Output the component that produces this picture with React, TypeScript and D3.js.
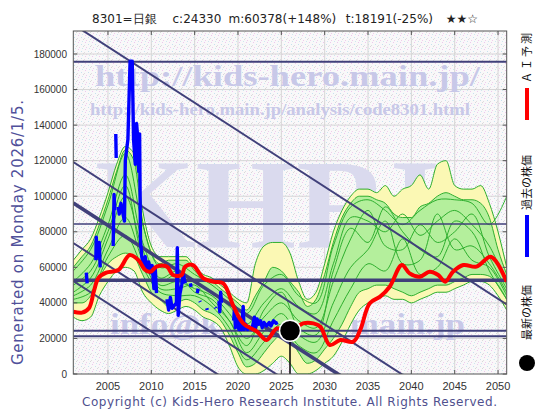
import React from "react";
import * as d3 from "d3";

// ---------- data (values in thousands of yen) ----------
const xTickYears = [2005, 2010, 2015, 2020, 2025, 2030, 2035, 2040, 2045, 2050];
const yTickValues = [0, 20, 40, 60, 80, 100, 120, 140, 160, 180];

const titleParts = ["8301=日銀", "c:24330", "m:60378(+148%)", "t:18191(-25%)", "★★☆"];

// yearly envelope of the AI forecast fan, 2001..2051
const bandYears = [
  2001, 2002, 2003, 2004, 2005, 2006, 2007, 2008, 2009, 2010, 2011, 2012, 2013,
  2014, 2015, 2016, 2017, 2018, 2019, 2020, 2021, 2022, 2023, 2024, 2025, 2026,
  2027, 2028, 2029, 2030, 2031, 2032, 2033, 2034, 2035, 2036, 2037, 2038, 2039,
  2040, 2041, 2042, 2043, 2044, 2045, 2046, 2047, 2048, 2049, 2050, 2051,
];
const yellowUpper = [
  64, 70, 76, 88, 102, 118, 128, 124, 92, 72, 66, 66, 66, 66, 60, 56, 54, 50, 46,
  42, 40, 62, 72, 74, 74, 68, 52, 42, 46, 62, 80, 92, 100, 104, 104, 102, 106, 100,
  104, 106, 112, 104, 118, 120, 106, 104, 104, 106, 96, 80, 60,
];
const greenUpper = [
  60, 66, 72, 84, 98, 114, 126, 120, 86, 68, 62, 64, 64, 64, 58, 54, 52, 48, 44,
  40, 36, 44, 52, 60, 58, 52, 46, 38, 42, 56, 74, 88, 96, 100, 100, 98, 96, 90, 88,
  88, 94, 96, 100, 102, 100, 98, 98, 96, 88, 70, 56,
];
const greenLower = [
  40, 40, 44, 54, 62, 66, 68, 66, 56, 46, 42, 38, 40, 42, 40, 36, 34, 30, 22, 12,
  4, 6, 12, 18, 22, 20, 12, 6, 8, 14, 20, 28, 38, 46, 48, 50, 50, 48, 46, 44, 46,
  48, 50, 50, 52, 54, 56, 56, 55, 50, 42,
];
const yellowLower = [
  32, 30, 32, 44, 52, 58, 60, 58, 46, 40, 36, 34, 36, 38, 36, 32, 30, 26, 16, 4, 0,
  0, 2, 6, 10, 6, 0, 0, 2, 6, 10, 18, 28, 36, 40, 42, 44, 42, 42, 40, 42, 44, 46,
  46, 48, 50, 52, 52, 50, 44, 36,
];

// individual forecast paths, every two years 2001..2051
const pathYears = [
  2001, 2003, 2005, 2007, 2009, 2011, 2013, 2015, 2017, 2019, 2021, 2023, 2025,
  2027, 2029, 2031, 2033, 2035, 2037, 2039, 2041, 2043, 2045, 2047, 2049, 2051,
];
const path1 = [58, 70, 95, 124, 84, 60, 62, 56, 50, 42, 34, 50, 56, 44, 40, 72, 94, 98, 92, 84, 92, 98, 98, 96, 84, 100];
const path2 = [52, 62, 84, 112, 74, 54, 58, 52, 46, 38, 28, 40, 48, 38, 34, 62, 88, 86, 80, 90, 78, 86, 92, 84, 72, 50];
const path3 = [46, 54, 76, 100, 70, 50, 52, 48, 44, 34, 20, 32, 40, 30, 26, 52, 76, 92, 72, 70, 84, 74, 80, 90, 66, 48];
const path4 = [44, 50, 70, 88, 64, 48, 48, 50, 40, 30, 12, 24, 34, 22, 18, 40, 60, 70, 86, 62, 64, 90, 70, 72, 62, 46];
const path5 = [42, 46, 66, 78, 60, 46, 44, 44, 38, 26, 8, 18, 28, 16, 12, 30, 48, 62, 58, 76, 56, 60, 76, 64, 60, 44];
const path6 = [50, 58, 80, 106, 66, 52, 56, 46, 42, 30, 16, 36, 46, 26, 22, 58, 82, 74, 94, 80, 70, 66, 86, 80, 58, 42];

// AI forecast (red)
const predYears = [
  2001, 2002, 2002.8, 2003.4, 2003.9, 2004.8, 2006.2, 2007.5, 2008.5, 2009.3,
  2009.9, 2010.6, 2011.8, 2012.5, 2013.5, 2013.9, 2014.8, 2016.0, 2017.2, 2018.3,
  2019.5, 2020.6, 2022.2, 2023.3, 2024.5, 2026.0, 2027.5, 2028.7, 2029.5, 2030.6,
  2031.8, 2033.3, 2034.1, 2035.2, 2036.4, 2037.5, 2038.9, 2039.8, 2041.0, 2042.1,
  2043.1, 2043.9, 2044.8, 2046.0, 2047.5, 2049.1, 2049.8, 2051,
];
const predValues = [
  35, 34.5, 37, 47, 54, 57, 58.5, 66.9, 64.1, 58.5, 57.5, 60.4, 60.4, 55.7, 55.7,
  60.4, 61.3, 53.8, 51.9, 51, 37.9, 28.5, 23.8, 19.1, 25.7, 23.8, 28.5, 28.5, 26.6,
  16.3, 19.1, 18.2, 24.8, 39.8, 43.5, 49.1, 61.3, 56.6, 54.7, 57.5, 55.7, 51.9,
  57.5, 61.3, 60.4, 66, 63.2, 51.9,
];

// past prices (blue); null = no data
const pastYears = [
  2002.5, 2002.6, 2002.65, 2003.6, 2003.65, 2003.75, 2004.0, 2004.1, 2004.2,
  2005.6, 2005.7, 2005.8, 2005.85, 2005.9, 2005.95, 2006.0, 2006.2, 2006.3, 2006.5,
  2006.9, 2007.0, 2007.3, 2007.55, 2007.8, 2007.95, 2008.15, 2008.3, 2008.45,
  2008.55, 2008.65, 2008.75, 2008.9, 2009.1, 2009.3, 2009.5, 2009.7, 2009.9, 2010.1,
  2010.3, 2010.45, 2010.6, 2010.8, 2011.8, 2012.0, 2012.2, 2012.4, 2012.9, 2013.0,
  2013.1, 2013.3, 2013.5, 2013.7, 2013.9, 2014.0, 2014.5, 2014.6, 2014.7, 2015.3,
  2015.4, 2015.45, 2015.6, 2015.65, 2015.7, 2016.4, 2016.45, 2016.5, 2017.4,
  2017.45, 2017.5, 2017.8, 2017.9, 2018.0, 2018.1, 2018.2, 2019.5, 2019.6, 2019.7,
  2019.9, 2020.1, 2020.3, 2020.4, 2020.6, 2020.7, 2020.9, 2021.1, 2021.3, 2021.6,
  2021.9, 2022.0, 2022.2, 2022.4, 2022.6, 2022.8, 2023.0, 2023.3, 2023.6, 2023.8,
  2024.1, 2024.4, 2024.6,
];
const pastValues = [
  57, 51, null, 64, 77, 66, 74, 60, null,
  72, 101, 92, null, 135, 121.5, null, 94, 90, 96,
  86, 120, 132, 176, 176, 132, 118, 141, 132,
  114, 135, 75, 66, 61, 66, 58, 63, 57, 61,
  48, 60, 45.5, null, 42, 36, 43, 37, 40, 71,
  33, 45, 50, 56, 51, null, 51, 49, null, 45.5,
  48, null, 41, 40.5, null, 37, 36, null, 37.5,
  37, null, 41, 35, 46, 40, null, 30, 37, 26,
  31, 25, 30, 25, 38, 25, 28, 25, 26.5, 25,
  32, 25, 31, 28, 30, 26, 29, 27, 29, 27,
  30, 28.5, 29,
];

const latestYear = 2026.0;
const latestValue = 24.33;

// support / resistance levels
const levelValues = [175.7, 84.4, 52.7, 24.36, 21.2];
const levelWidths = [2, 1.6, 3.4, 2, 2];
// downward channel lines: value at 2001 and at 2051
const channelStart = [196.65, 119.25, 96.19, 73.69, 52.31];
const channelEnd = [39.15, -38.25, -61.31, -83.81, -105.19];
const channelWidths = [2, 2, 3.6, 2, 2];

const legendLabels = ["ＡＩ予測", "過去の株価", "最新の株価"];

// ---------- chart ----------
const W = 560, H = 420;
const L = 73.3, R = 506.7, T = 31, B = 374;
const navy = "#40407a";
const sans = "'DejaVu Sans', Verdana, sans-serif";
const serif = "'Liberation Serif', 'DejaVu Serif', serif";

export default function App() {
  const x = d3.scaleLinear().domain([2001, 2051]).range([L, R]);
  const y = d3.scaleLinear().domain([0, 180]).range([B, 54]);

  const area = (lo: number[], hi: number[]) =>
    d3
      .area<number>()
      .x((_, i) => x(bandYears[i]))
      .y0((_, i) => y(lo[i]))
      .y1((d) => y(d))
      .curve(d3.curveMonotoneX)(hi) || "";
  const bandLine = (vals: number[]) =>
    d3
      .line<number>()
      .x((_, i) => x(bandYears[i]))
      .y((d) => y(d))
      .curve(d3.curveMonotoneX)(vals) || "";
  const pathLine = (vals: number[]) =>
    d3
      .line<number>()
      .x((_, i) => x(pathYears[i]))
      .y((d) => y(d))
      .curve(d3.curveCatmullRom.alpha(0.5))(vals) || "";

  const redPath =
    d3
      .line<number>()
      .x((_, i) => x(predYears[i]))
      .y((d) => y(d))
      .curve(d3.curveCatmullRom.alpha(0.5))(predValues) || "";

  const bluePath =
    d3
      .line<number | null>()
      .defined((d) => d !== null)
      .x((_, i) => x(pastYears[i]))
      .y((d) => y(d as number))(pastValues) || "";

  const greenStroke = "#2eae2e";
  const paths = [path1, path2, path3, path4, path5, path6];

  return (
    <svg
      width={W}
      height={H}
      style={{ position: "absolute", left: 0, top: 0, background: "#fff" }}
      fontFamily={sans}
    >
      <defs>
        <pattern id="bgdots" width="7" height="7" patternUnits="userSpaceOnUse">
          <rect width="7" height="7" fill="#f9f8f9" />
          <rect x="1" y="0" width="1" height="1" fill="#eec6ee" />
          <rect x="4" y="2" width="1" height="1" fill="#c6e2ee" />
          <rect x="6" y="4" width="1" height="1" fill="#d8d8d8" />
          <rect x="2" y="5" width="1" height="1" fill="#f0ccec" />
          <rect x="5" y="6" width="1" height="1" fill="#cfe6f0" />
          <rect x="0" y="3" width="1" height="1" fill="#e0dce0" />
        </pattern>
        <clipPath id="plotclip">
          <rect x={L} y={T} width={R - L} height={B - T} />
        </clipPath>
      </defs>

      <rect x={L} y={T} width={R - L} height={B - T} fill="url(#bgdots)" />

      {/* grid */}
      {xTickYears.map((yr) => (
        <line key={"gx" + yr} x1={x(yr)} x2={x(yr)} y1={T} y2={B} stroke="#d6d6d6" strokeWidth={1} />
      ))}
      {yTickValues.slice(1).map((v) => (
        <line key={"gy" + v} x1={L} x2={R} y1={y(v)} y2={y(v)} stroke="#d6d6d6" strokeWidth={1} />
      ))}

      <g clipPath="url(#plotclip)">
        {/* watermarks */}
        <g fill="#c8c8e8" fontFamily={serif} fontWeight="bold">
          <text x={95} y={86} fontSize={30} textLength={385} lengthAdjust="spacingAndGlyphs">
            http://kids-hero.main.jp/
          </text>
          <text x={90} y={115} fontSize={17} textLength={380} lengthAdjust="spacingAndGlyphs">
            http://kids-hero.main.jp/analysis/code8301.html
          </text>
          <text x={95} y={247} fontSize={127} fill="#dadaee" textLength={345} lengthAdjust="spacingAndGlyphs">
            KHRI
          </text>
          <text x={110} y={334} fontSize={30} textLength={355} lengthAdjust="spacingAndGlyphs">
            info@kids-hero.main.jp
          </text>
        </g>

        {/* forecast fan */}
        <path d={area(yellowLower, yellowUpper)} fill="#fbf8b4" stroke="none" />
        <path d={area(greenLower, greenUpper)} fill="#b4ef9c" stroke="none" />
        {[yellowUpper, yellowLower, greenUpper, greenLower].map((s, i) => (
          <path key={"env" + i} d={bandLine(s)} fill="none" stroke={greenStroke} strokeWidth={1} />
        ))}
        {paths.map((p, i) => (
          <path key={"p" + i} d={pathLine(p)} fill="none" stroke={greenStroke} strokeWidth={1} />
        ))}

        {/* levels and channel */}
        {levelValues.map((v, i) => (
          <line key={"lv" + i} x1={L} x2={R} y1={y(v)} y2={y(v)} stroke={navy} strokeWidth={levelWidths[i]} />
        ))}
        {channelStart.map((v, i) => (
          <line
            key={"ch" + i}
            x1={x(2001)}
            y1={y(v)}
            x2={x(2051)}
            y2={y(channelEnd[i])}
            stroke={navy}
            strokeWidth={channelWidths[i]}
          />
        ))}

        {/* past price and AI forecast */}
        <path d={bluePath} fill="none" stroke="#0000ff" strokeWidth={3.4} strokeLinejoin="round" />
        <path d={redPath} fill="none" stroke="#ff0000" strokeWidth={4} strokeLinejoin="round" />

        {/* latest price */}
        <line x1={x(latestYear)} x2={x(latestYear)} y1={y(latestValue)} y2={B} stroke="#000" strokeWidth={1.5} />
        <circle cx={x(latestYear)} cy={y(latestValue)} r={10.5} fill="#000" stroke="#fff" strokeWidth={1.5} />
      </g>

      {/* frame and ticks */}
      <rect x={L} y={T} width={R - L} height={B - T} fill="none" stroke="#555" strokeWidth={1} />
      {yTickValues.map((v) => (
        <g key={"ty" + v}>
          <line x1={L} x2={L + 4} y1={y(v)} y2={y(v)} stroke="#555" />
          <line x1={R - 4} x2={R} y1={y(v)} y2={y(v)} stroke="#555" />
          <text x={67} y={y(v) + 3.5} fontSize={10} textAnchor="end" fill="#333" fontFamily="'Liberation Sans', Arial, sans-serif">
            {v * 1000}
          </text>
        </g>
      ))}
      {xTickYears.map((yr) => (
        <g key={"tx" + yr}>
          <line x1={x(yr)} x2={x(yr)} y1={B} y2={B - 4} stroke="#555" />
          <line x1={x(yr)} x2={x(yr)} y1={T} y2={T + 4} stroke="#555" />
          <text x={x(yr)} y={390} fontSize={11} textAnchor="middle" fill="#333" fontFamily="'Liberation Sans', Arial, sans-serif">
            {yr}
          </text>
        </g>
      ))}

      {/* title */}
      {titleParts.map((t, i) => (
        <text key={"tt" + i} x={[92, 172.5, 228.6, 345.7, 445.7][i]} y={23} fontSize={12} fill="#222">
          {t}
        </text>
      ))}

      {/* side texts */}
      <text
        transform="translate(23,365) rotate(-90)"
        fontSize={15}
        fill="#50509a"
        textLength={265}
      >
        Generated on Monday 2026/1/5.
      </text>
      <text x={82} y={406} fontSize={12} fill="#50508e" textLength={415}>
        Copyright (c) Kids-Hero Research Institute. All Rights Reserved.
      </text>

      {/* legend */}
      <g fontFamily="'Noto Sans CJK JP', sans-serif" fontSize={11} fill="#111">
        <text transform="translate(531,83) rotate(-90)" textLength={50}>{legendLabels[0]}</text>
        <rect x={525} y={88} width={4} height={32} fill="#ff0000" />
        <text transform="translate(531,210) rotate(-90)" textLength={55}>{legendLabels[1]}</text>
        <rect x={525} y={215} width={4} height={42} fill="#0000ff" />
        <text transform="translate(531,340) rotate(-90)" textLength={55}>{legendLabels[2]}</text>
        <circle cx={527} cy={363} r={8} fill="#000" />
      </g>
    </svg>
  );
}
